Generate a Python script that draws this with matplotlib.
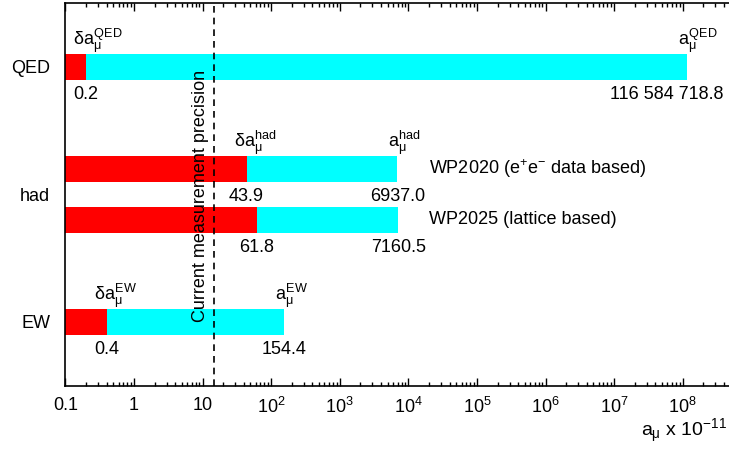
import numpy as np
import matplotlib
matplotlib.use("Agg")
import matplotlib.pyplot as plt
from matplotlib.ticker import FixedLocator, LogLocator, NullFormatter

plt.rcParams['font.family'] = ['Liberation Sans', 'DejaVu Sans']
plt.rcParams['mathtext.fontset'] = 'custom'
plt.rcParams['mathtext.rm'] = 'Liberation Sans'
plt.rcParams['mathtext.it'] = 'Liberation Sans'
plt.rcParams['mathtext.bf'] = 'Liberation Sans:bold'

# contributions to a_mu, in units of 1e-11
rows = ["QED", "had WP2020", "had WP2025", "EW"]
values = [116584718.8, 6937.0, 7160.5, 154.4]
uncert = [0.2, 43.9, 61.8, 0.4]
value_text = ["116 584 718.8", "6937.0", "7160.5", "154.4"]
uncert_text = ["0.2", "43.9", "61.8", "0.4"]
sup_text = ["QED", "had", None, "EW"]
side_text = [None, "WP2020 (e$^{+}$e$^{-}$ data based)", "WP2025 (lattice based)", None]
ypos = [6.25, 4.25, 3.25, 1.25]
group_labels = ["QED", "had", "EW"]
group_pos = [6.25, 3.75, 1.25]
precision = 14.5

fig = plt.figure(figsize=(7.29, 4.5), dpi=100)
ax = fig.add_axes([0.0896, 0.1429, 0.9104, 0.8504])

x0 = 0.1
for i in range(len(rows)):
    y = ypos[i]
    ax.barh(y, values[i] - x0, left=x0, height=0.5, color='#00ffff', linewidth=0)
    ax.barh(y, uncert[i] - x0, left=x0, height=0.5, color='#ff0000', linewidth=0)

    # numbers under the bars
    ax.annotate(uncert_text[i], (uncert[i], y - 0.25), xytext=(0, -19),
                textcoords='offset pixels', ha='center', va='baseline', fontsize=13)
    if i == 0:
        ax.annotate(value_text[i], (values[i], y - 0.25), xytext=(36, -19),
                    textcoords='offset pixels', ha='right', va='baseline', fontsize=13)
    else:
        ax.annotate(value_text[i], (values[i], y - 0.25), xytext=(0, -19),
                    textcoords='offset pixels', ha='center', va='baseline', fontsize=13)

    # symbols above the bars
    if sup_text[i] is not None:
        s = sup_text[i]
        ax.annotate(r'$\delta a_{\mu}^{\mathrm{%s}}$' % s, (uncert[i], y + 0.25),
                    xytext=(-13, 9), textcoords='offset pixels', ha='left',
                    va='baseline', fontsize=13)
        ax.annotate(r'$a_{\mu}^{\mathrm{%s}}$' % s, (values[i], y + 0.25),
                    xytext=(-9, 9), textcoords='offset pixels', ha='left',
                    va='baseline', fontsize=13)

    if side_text[i] is not None:
        ax.text(2.0e4, y, side_text[i], ha='left', va='center', fontsize=13)

# current experimental precision
ax.axvline(precision, color='black', linestyle=(0, (4, 3)), linewidth=1.2, zorder=5)
ax.annotate('Current measurement precision', (precision, 3.72), xytext=(-5, 0),
            textcoords='offset pixels', ha='right', va='center', rotation=90,
            fontsize=13)

ax.set_xscale('log')
ax.set_xlim(0.1, 10 ** 8.675)
ax.set_ylim(0, 7.5)

ax.xaxis.set_major_locator(FixedLocator([10.0 ** k for k in range(-1, 9)]))
ax.set_xticklabels(['0.1', '1', '10'] + [r'$10^{%d}$' % k for k in range(2, 9)])
ax.xaxis.set_minor_locator(LogLocator(base=10, subs=np.arange(2, 10), numticks=20))
ax.xaxis.set_minor_formatter(NullFormatter())
ax.tick_params(axis='x', which='both', direction='in', top=True, labelsize=13,
               width=1, pad=8)
ax.tick_params(axis='x', which='major', length=6)
ax.tick_params(axis='x', which='minor', length=3)

ax.set_yticks(group_pos)
ax.set_yticklabels(group_labels)
ax.tick_params(axis='y', which='both', length=0, pad=11, labelsize=13)

ax.spines['right'].set_visible(False)
for sp in ['left', 'top', 'bottom']:
    ax.spines[sp].set_linewidth(1.2)

fig.text(0.997, 0.03, r'$a_{\mu}$ x 10$^{-11}$', ha='right', va='baseline', fontsize=14)

fig.savefig('out.png', dpi=100)
